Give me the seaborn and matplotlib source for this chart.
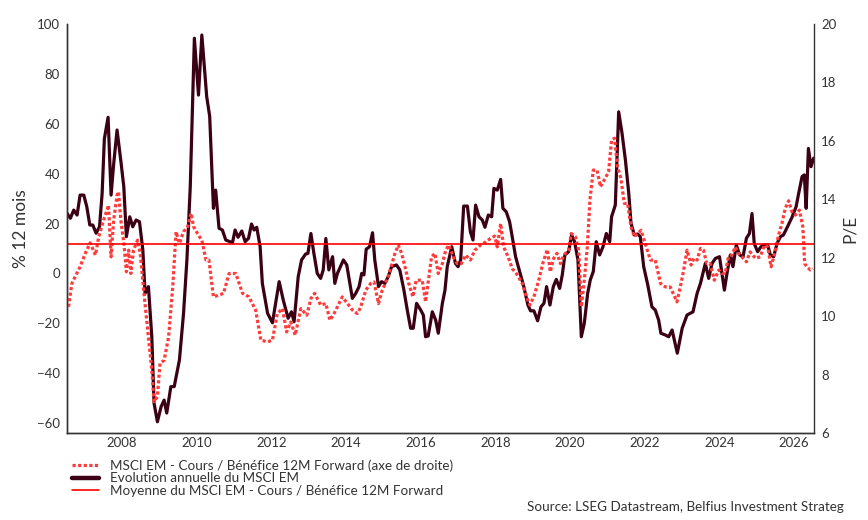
import matplotlib
matplotlib.use("Agg")
import matplotlib.pyplot as plt
import seaborn as sns
from matplotlib.lines import Line2D

# Evolution annuelle du MSCI EM (% 12 mois, axe de gauche)
ret_years = [2006.53, 2006.62, 2006.71, 2006.80, 2006.88, 2006.98, 2007.06, 2007.14, 2007.22, 2007.31,
             2007.40, 2007.47, 2007.53, 2007.63, 2007.71, 2007.78, 2007.87, 2007.98, 2008.05, 2008.12,
             2008.21, 2008.29, 2008.38, 2008.47, 2008.56, 2008.62, 2008.71, 2008.80, 2008.86, 2008.95,
             2009.05, 2009.13, 2009.20, 2009.31, 2009.40, 2009.54, 2009.65, 2009.74, 2009.83, 2009.94,
             2010.05, 2010.14, 2010.27, 2010.35, 2010.45, 2010.51, 2010.60, 2010.69, 2010.78, 2010.96,
             2011.03, 2011.11, 2011.21, 2011.30, 2011.39, 2011.47, 2011.54, 2011.61, 2011.70, 2011.76,
             2011.90, 2012.03, 2012.21, 2012.32, 2012.45, 2012.54, 2012.61, 2012.72, 2012.81, 2012.92,
             2012.98, 2013.06, 2013.14, 2013.23, 2013.32, 2013.39, 2013.46, 2013.54, 2013.64, 2013.70,
             2013.77, 2013.93, 2014.02, 2014.17, 2014.26, 2014.35, 2014.42, 2014.48, 2014.54, 2014.63,
             2014.71, 2014.77, 2014.87, 2014.95, 2015.04, 2015.13, 2015.22, 2015.35, 2015.44, 2015.55,
             2015.64, 2015.73, 2015.80, 2015.89, 2016.00, 2016.07, 2016.13, 2016.20, 2016.31, 2016.40,
             2016.47, 2016.58, 2016.65, 2016.71, 2016.83, 2016.93, 2017.00, 2017.07, 2017.15, 2017.25,
             2017.33, 2017.40, 2017.47, 2017.56, 2017.65, 2017.72, 2017.81, 2017.90, 2017.96, 2018.05,
             2018.14, 2018.20, 2018.29, 2018.38, 2018.45, 2018.54, 2018.65, 2018.76, 2018.87, 2018.94,
             2019.03, 2019.13, 2019.22, 2019.30, 2019.37, 2019.46, 2019.55, 2019.63, 2019.72, 2019.79,
             2019.86, 2019.96, 2020.04, 2020.12, 2020.21, 2020.30, 2020.38, 2020.47, 2020.54, 2020.62,
             2020.70, 2020.79, 2020.88, 2020.97, 2021.06, 2021.11, 2021.21, 2021.30, 2021.39, 2021.48,
             2021.57, 2021.63, 2021.72, 2021.81, 2021.88, 2021.97, 2022.08, 2022.19, 2022.28, 2022.37,
             2022.43, 2022.55, 2022.64, 2022.73, 2022.87, 2023.00, 2023.13, 2023.29, 2023.40, 2023.49,
             2023.62, 2023.71, 2023.80, 2023.89, 2024.00, 2024.13, 2024.20, 2024.29, 2024.36, 2024.45,
             2024.54, 2024.63, 2024.72, 2024.80, 2024.87, 2024.93, 2025.02, 2025.11, 2025.20, 2025.29,
             2025.36, 2025.45, 2025.54, 2025.63, 2025.71, 2025.82, 2025.94, 2026.05, 2026.11, 2026.21,
             2026.27, 2026.32, 2026.38, 2026.45, 2026.52]
ret_values = [24.1, 22.1, 25.4, 23.4, 31.4, 31.4, 26.7, 19.4, 19.4, 16.1,
              18.7, 32.0, 54.0, 62.6, 31.4, 44.0, 57.5, 44.0, 34.8, 14.7,
              22.7, 18.7, 21.4, 20.7, 9.4, -8.0, -5.3, -25.4, -52.0, -59.5,
              -53.4, -50.8, -56.0, -45.4, -45.4, -34.7, -16.0, 5.4, 34.8, 94.3,
              71.5, 95.6, 70.9, 63.0, 26.1, 33.4, 18.1, 17.4, 13.4, 12.3,
              17.4, 14.5, 17.0, 12.7, 14.1, 19.8, 17.4, 18.5, 10.7, -4.0,
              -16.0, -19.8, -3.3, -10.7, -18.0, -15.4, -19.4, -1.3, 5.4, 7.8,
              8.0, 16.0, 8.0, 0.0, -2.0, 1.4, 14.0, 1.4, 6.7, -4.0,
              0.0, 5.4, 3.4, -10.0, -8.0, -5.3, 0.0, -0.6, 9.7, 10.7,
              16.3, 5.4, -5.3, -3.3, -4.0, -1.3, 2.7, 3.4, 1.4, -6.7,
              -14.7, -22.0, -22.0, -12.0, -14.7, -16.7, -25.4, -25.1, -15.4, -18.7,
              -24.0, -12.0, -6.7, 2.7, 10.7, 4.0, 2.7, 5.4, 27.0, 27.0,
              16.7, 13.4, 27.4, 22.7, 21.4, 18.5, 23.4, 22.7, 34.1, 33.4,
              37.7, 26.1, 24.7, 20.7, 14.7, 6.7, 0.7, -5.3, -12.7, -15.0,
              -15.0, -19.0, -13.4, -12.0, -5.3, -12.7, -5.3, -2.4, -6.0, -0.6,
              7.4, 8.7, 15.4, 12.7, 5.4, -25.4, -20.0, -8.0, -2.6, 0.7,
              12.7, 7.4, 10.7, 16.0, 12.7, 22.7, 27.4, 64.8, 56.2, 45.5,
              32.1, 20.1, 15.4, 15.8, 14.7, 2.7, -4.7, -13.4, -14.7, -18.7,
              -24.0, -24.7, -25.4, -22.7, -32.0, -22.0, -16.7, -15.4, -8.0, -4.0,
              4.0, -2.0, 4.0, 6.0, 6.7, -6.7, 0.0, 7.4, 2.7, 11.4,
              7.4, 6.7, 14.1, 16.0, 24.0, 12.0, 8.7, 10.7, 11.4, 11.4,
              7.4, 6.7, 12.0, 14.7, 15.4, 18.7, 22.5, 26.7, 31.4, 38.8,
              39.5, 26.1, 50.1, 42.8, 46.2]

# MSCI EM - Cours / Benefice 12M Forward (axe de droite)
pe_years = [2006.57, 2006.66, 2006.75, 2006.88, 2007.02, 2007.15, 2007.29, 2007.38, 2007.51, 2007.60,
            2007.64, 2007.71, 2007.78, 2007.87, 2007.91, 2007.97, 2008.05, 2008.12, 2008.18, 2008.24,
            2008.31, 2008.42, 2008.49, 2008.60, 2008.71, 2008.80, 2008.86, 2008.95, 2009.02, 2009.13,
            2009.25, 2009.36, 2009.45, 2009.54, 2009.65, 2009.76, 2009.85, 2009.92, 2010.05, 2010.14,
            2010.25, 2010.33, 2010.45, 2010.60, 2010.72, 2010.87, 2011.05, 2011.23, 2011.40, 2011.58,
            2011.72, 2011.90, 2012.03, 2012.16, 2012.30, 2012.41, 2012.52, 2012.64, 2012.79, 2012.95,
            2013.06, 2013.16, 2013.32, 2013.46, 2013.57, 2013.68, 2013.81, 2013.90, 2014.04, 2014.17,
            2014.30, 2014.39, 2014.53, 2014.66, 2014.75, 2014.87, 2014.97, 2015.11, 2015.22, 2015.31,
            2015.40, 2015.49, 2015.60, 2015.68, 2015.79, 2015.88, 2016.04, 2016.13, 2016.22, 2016.29,
            2016.38, 2016.47, 2016.58, 2016.67, 2016.75, 2016.89, 2016.98, 2017.09, 2017.20, 2017.33,
            2017.45, 2017.60, 2017.74, 2017.87, 2017.98, 2018.05, 2018.14, 2018.22, 2018.34, 2018.45,
            2018.56, 2018.72, 2018.83, 2018.92, 2019.03, 2019.16, 2019.28, 2019.39, 2019.47, 2019.56,
            2019.65, 2019.74, 2019.83, 2019.96, 2020.03, 2020.14, 2020.23, 2020.30, 2020.38, 2020.46,
            2020.53, 2020.62, 2020.72, 2020.81, 2020.94, 2021.03, 2021.11, 2021.19, 2021.27, 2021.36,
            2021.45, 2021.54, 2021.63, 2021.72, 2021.90, 2022.01, 2022.15, 2022.28, 2022.42, 2022.55,
            2022.68, 2022.86, 2022.95, 2023.04, 2023.13, 2023.24, 2023.31, 2023.40, 2023.49, 2023.57,
            2023.66, 2023.75, 2023.86, 2023.98, 2024.07, 2024.15, 2024.24, 2024.33, 2024.42, 2024.51,
            2024.60, 2024.72, 2024.82, 2024.96, 2025.09, 2025.20, 2025.29, 2025.38, 2025.49, 2025.58,
            2025.67, 2025.76, 2025.85, 2025.94, 2026.03, 2026.14, 2026.23, 2026.28, 2026.34, 2026.43,
            2026.50]
pe_values = [10.32, 11.12, 11.35, 11.69, 12.15, 12.51, 12.09, 12.72, 13.29, 13.63,
             13.80, 12.03, 13.29, 14.14, 14.26, 13.29, 12.54, 11.52, 12.26, 11.46,
             12.26, 12.60, 12.15, 10.66, 9.29, 8.15, 7.07, 7.24, 8.38, 8.49,
             9.29, 11.00, 12.89, 12.49, 12.89, 13.06, 13.52, 13.06, 12.77, 12.60,
             11.92, 11.92, 10.66, 10.72, 10.78, 11.46, 11.46, 10.78, 10.66, 10.21,
             9.18, 9.12, 9.18, 10.09, 10.26, 9.46, 9.80, 9.35, 10.26, 10.03,
             10.60, 10.78, 10.38, 10.43, 9.86, 10.09, 10.43, 10.66, 10.43, 10.21,
             10.09, 10.30, 10.89, 11.12, 11.17, 10.43, 10.89, 11.29, 11.75, 12.15,
             12.43, 12.15, 11.58, 11.12, 10.66, 11.23, 11.23, 10.49, 11.35, 12.03,
             12.15, 11.46, 11.80, 12.26, 12.43, 11.98, 11.80, 11.80, 12.09, 11.92,
             12.26, 12.43, 12.54, 12.66, 12.74, 12.37, 13.17, 12.37, 12.03, 11.63,
             11.46, 11.12, 10.66, 10.38, 10.66, 11.23, 11.86, 12.28, 11.52, 11.98,
             12.15, 11.80, 12.09, 12.26, 12.83, 12.72, 12.26, 10.32, 11.23, 12.37,
             13.97, 15.00, 15.00, 14.43, 14.72, 14.94, 16.03, 16.09, 15.11, 14.72,
             13.86, 13.86, 13.06, 12.72, 12.94, 12.49, 11.92, 11.92, 11.12, 11.00,
             11.00, 10.49, 11.00, 11.58, 12.26, 11.75, 11.98, 11.92, 12.32, 12.26,
             11.80, 11.80, 11.23, 11.58, 11.46, 11.46, 12.03, 12.09, 12.37, 12.15,
             12.03, 11.86, 12.20, 11.98, 12.03, 12.43, 12.37, 11.69, 12.20, 12.77,
             13.17, 13.69, 13.95, 13.57, 13.46, 13.63, 13.06, 11.80, 11.69, 11.58,
             11.63]

# Moyenne du P/E sur la periode
pe_mean = 12.47

x_ticks = [2008, 2010, 2012, 2014, 2016, 2018, 2020, 2022, 2024, 2026]
left_ticks = [-60, -40, -20, 0, 20, 40, 60, 80, 100]
right_ticks = [6, 8, 10, 12, 14, 16, 18, 20]

legend_labels = [
    "MSCI EM - Cours / Bénéfice 12M Forward (axe de droite)",
    "Evolution annuelle du MSCI EM",
    "Moyenne du MSCI EM - Cours / Bénéfice 12M Forward",
]

sns.set_theme(style="white")
plt.rcParams['font.family'] = ['Lato', 'DejaVu Sans']

dark = "#3c0014"
red_dot = "#ff3b3b"
red_line = "#ff0000"
txt = "#333333"

fig = plt.figure(figsize=(8.68, 5.2), dpi=100)
ax = fig.add_axes([0.0772, 0.1673, 0.8606, 0.7865])
ax2 = ax.twinx()

sns.lineplot(x=ret_years, y=ret_values, ax=ax, color=dark, linewidth=2.3,
             estimator=None, sort=False)
sns.lineplot(x=pe_years, y=pe_values, ax=ax2, color=red_dot, linewidth=2.3,
             linestyle=(0, (1, 0.75)), estimator=None, sort=False)
ax2.axhline(pe_mean, color=red_line, linewidth=1.2)

ax.set_xlim(2006.53, 2026.53)
ax.set_ylim(-64, 100)
ax2.set_ylim(6, 20)
ax.set_xticks(x_ticks)
ax.set_xticklabels([str(t) for t in x_ticks])
ax.set_yticks(left_ticks)
ax2.set_yticks(right_ticks)

ax.set_ylabel("% 12 mois", fontsize=12.5, color=txt, labelpad=6)
ax2.set_ylabel("P/E", fontsize=12.5, color=txt, labelpad=4)
ax.set_xlabel("")

for a in (ax, ax2):
    a.tick_params(axis='both', length=0, labelsize=9.5, labelcolor=txt, pad=5)
    a.grid(False)
    a.spines['top'].set_visible(False)
    for s in ('left', 'right', 'bottom'):
        a.spines[s].set_color(txt)
        a.spines[s].set_linewidth(1.0)
ax.spines['right'].set_visible(False)
ax.tick_params(axis='x', pad=3)

handles = [
    Line2D([], [], color=red_dot, linewidth=2.3, linestyle=(0, (1, 0.75))),
    Line2D([], [], color=dark, linewidth=3.2),
    Line2D([], [], color=red_line, linewidth=1.2),
]
fig.legend(handles, legend_labels, loc='upper left', bbox_to_anchor=(0.083, 0.117),
           frameon=False, fontsize=9.7, labelcolor=txt, handlelength=2.0,
           handletextpad=0.8, labelspacing=0.04, borderpad=0, borderaxespad=0)

fig.text(0.972, 0.014, "Source: LSEG Datastream, Belfius Investment Strateg",
         ha='right', va='bottom', fontsize=9.7, color=txt)

fig.savefig("out.png", dpi=100)
